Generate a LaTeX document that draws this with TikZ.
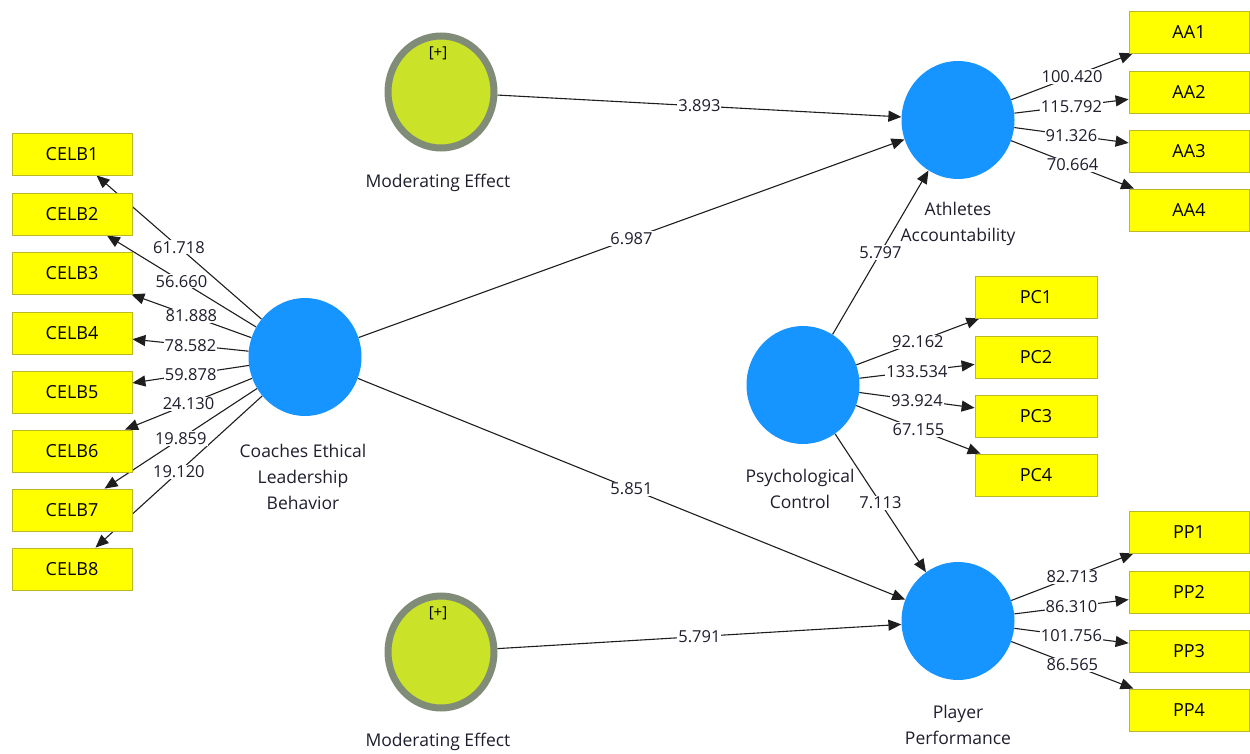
\documentclass[tikz,border=0pt]{standalone}
\usepackage{fontspec}
\setmainfont{Open Sans}
\usetikzlibrary{shapes.geometric,arrows.meta}
\definecolor{lvblue}{RGB}{22,148,255}
\definecolor{modfill}{RGB}{202,226,40}
\definecolor{modring}{RGB}{128,140,120}
\definecolor{indfill}{RGB}{255,255,0}
\definecolor{indline}{RGB}{185,185,40}
\definecolor{txt}{RGB}{30,30,45}
\definecolor{edgec}{RGB}{30,30,30}
\pgfdeclarelayer{edges}
\pgfdeclarelayer{labels}
\pgfsetlayers{edges,labels,main}
\newcommand\pmlink[3]{%
  \begin{pgfonlayer}{edges}\draw[pmedge] (#1) -- (#2);\end{pgfonlayer}%
  \begin{pgfonlayer}{labels}\path (#1) -- (#2) node[lbl,midway]{#3};\end{pgfonlayer}}
\tikzset{
  lv/.style={ellipse, fill=lvblue, minimum width=113pt, minimum height=118pt, inner sep=0pt},
  modv/.style={ellipse, fill=modfill, draw=modring, line width=7pt, minimum width=106pt, minimum height=112pt, inner sep=0pt},
  ind/.style={rectangle, fill=indfill, draw=indline, line width=0.8pt, minimum width=120pt, minimum height=42pt, inner sep=0pt, text=black, font=\fontsize{18}{20}\selectfont},
  lbl/.style={fill=white, inner sep=1pt, text=txt, font=\fontsize{16.5}{18}\selectfont},
  lvcap/.style={align=center, text=txt, font=\fontsize{17.5}{26}\selectfont},
  pmedge/.style={draw=edgec, line width=1.1pt, -{Triangle[length=13pt,width=11pt]}}
}
\begin{document}
\begin{tikzpicture}[x=1pt,y=-1pt]
\useasboundingbox (0,0) rectangle (1250,754);
% latent variables
\node[lv] (celb) at (305,357) {};
\node[lv] (aa) at (958,120) {};
\node[lv] (pc) at (803,385) {};
\node[lv] (pp) at (958,621) {};
\node[modv] (mt) at (441,92) {};
\node[modv] (mb) at (441,652) {};
\node[text=black, font=\fontsize{15}{16}\selectfont] (mtp) at (438,53) {[+]};
\node[text=black, font=\fontsize{15}{16}\selectfont] (mbp) at (438,613) {[+]};
% captions
\node[lvcap] (celbc) at (303,477) {Coaches Ethical\\Leadership\\Behavior};
\node[lvcap] (aac) at (958,224) {Athletes\\Accountability};
\node[lvcap] (pcc) at (800,489) {Psychological\\Control};
\node[lvcap] (ppc) at (958,725) {Player\\Performance};
\node[lvcap] (mtc) at (438,183) {Moderating Effect};
\node[lvcap] (mbc) at (438,742) {Moderating Effect};
% indicators
\node[ind] (c1) at (72,154) {CELB1};
\node[ind] (c2) at (72,214) {CELB2};
\node[ind] (c3) at (72,273) {CELB3};
\node[ind] (c4) at (72,333) {CELB4};
\node[ind] (c5) at (72,392) {CELB5};
\node[ind] (c6) at (72,451) {CELB6};
\node[ind] (c7) at (72,510) {CELB7};
\node[ind] (c8) at (72,569) {CELB8};
\node[ind] (a1) at (1189,32) {AA1};
\node[ind] (a2) at (1189,92) {AA2};
\node[ind] (a3) at (1189,151) {AA3};
\node[ind] (a4) at (1189,210) {AA4};
\node[ind, minimum width=122pt] (p1) at (1036,297) {PC1};
\node[ind, minimum width=122pt] (p2) at (1036,357) {PC2};
\node[ind, minimum width=122pt] (p3) at (1036,416) {PC3};
\node[ind, minimum width=122pt] (p4) at (1036,475) {PC4};
\node[ind] (q1) at (1189,532) {PP1};
\node[ind] (q2) at (1189,592) {PP2};
\node[ind] (q3) at (1189,651) {PP3};
\node[ind] (q4) at (1189,710) {PP4};
% structural paths
\pmlink{mt}{aa}{3.893}
\pmlink{celb}{aa}{6.987}
\pmlink{celb}{pp}{5.851}
\pmlink{mb}{pp}{5.791}
\pmlink{pc}{aa}{5.797}
\pmlink{pc}{pp}{7.113}
% outer loadings
\pmlink{celb}{c1}{61.718}
\pmlink{celb}{c2}{56.660}
\pmlink{celb}{c3}{81.888}
\pmlink{celb}{c4}{78.582}
\pmlink{celb}{c5}{59.878}
\pmlink{celb}{c6}{24.130}
\pmlink{celb}{c7}{19.859}
\pmlink{celb}{c8}{19.120}
\pmlink{aa}{a1}{100.420}
\pmlink{aa}{a2}{115.792}
\pmlink{aa}{a3}{91.326}
\pmlink{aa}{a4}{70.664}
\pmlink{pc}{p1}{92.162}
\pmlink{pc}{p2}{133.534}
\pmlink{pc}{p3}{93.924}
\pmlink{pc}{p4}{67.155}
\pmlink{pp}{q1}{82.713}
\pmlink{pp}{q2}{86.310}
\pmlink{pp}{q3}{101.756}
\pmlink{pp}{q4}{86.565}
\end{tikzpicture}
\end{document}
